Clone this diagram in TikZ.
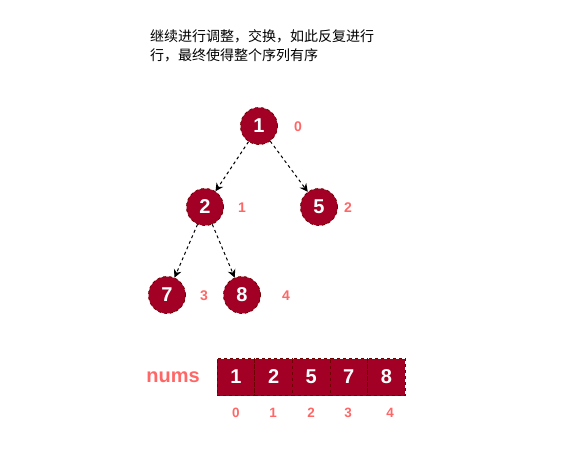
\documentclass[tikz,border=0pt]{standalone}
\usepackage{fontspec}
\setmainfont{Liberation Sans}
\newfontfamily\cjk{Noto Sans CJK SC}
\usetikzlibrary{arrows.meta}
\definecolor{nodefill}{HTML}{A20025}
\definecolor{nodeline}{HTML}{6F0000}
\definecolor{lbl}{HTML}{FF6666}
\tikzset{
  heapnode/.style={circle,fill=nodefill,draw=nodeline,dashed,line width=0.8pt,minimum size=37pt,inner sep=0pt,text=white,font=\fontsize{20}{22}\selectfont\bfseries},
  idx/.style={text=lbl,font=\fontsize{14}{16}\selectfont\bfseries},
  aidx/.style={text=lbl,font=\fontsize{13.5}{15}\selectfont\bfseries},
  cell/.style={rectangle,fill=nodefill,draw=nodeline,dashed,line width=0.8pt,minimum width=37.6pt,minimum height=37pt,inner sep=0pt,text=white,font=\fontsize{20}{22}\selectfont\bfseries},
  edge/.style={draw=black,dashed,line width=1pt,-{Stealth[length=8pt,width=8pt]}}
}
\begin{document}
\begin{tikzpicture}[x=1pt,y=-1pt]
\useasboundingbox (0,0) rectangle (572,460);
\node[anchor=west,align=left,inner sep=0pt,font=\cjk\fontsize{14}{18.5}\selectfont] (txt) at (150,46) {继续进行调整，交换，如此反复进行\\行，最终使得整个序列有序};
\node[heapnode] (n1) at (259,126) {1};
\node[heapnode] (n2) at (205,207) {2};
\node[heapnode] (n5) at (319,207) {5};
\node[heapnode] (n7) at (167,295) {7};
\node[heapnode] (n8) at (242,295) {8};
\node[idx] (i0) at (298,127) {0};
\node[idx] (i1) at (242,208) {1};
\node[idx] (i2) at (348,208) {2};
\node[idx] (i3) at (204,296) {3};
\node[idx] (i4) at (286,296) {4};
\draw[edge] (n1) -- (n2);
\draw[edge] (n1) -- (n5);
\draw[edge] (n2) -- (n7);
\draw[edge] (n2) -- (n8);
\node[text=lbl,font=\fontsize{20}{22}\selectfont\bfseries] (nums) at (173,377) {nums};
\node[cell] (c0) at (236,377) {1};
\node[cell] (c1) at (273.6,377) {2};
\node[cell] (c2) at (311.2,377) {5};
\node[cell] (c3) at (348.8,377) {7};
\node[cell] (c4) at (386.4,377) {8};
\node[aidx] (a0) at (236,413) {0};
\node[aidx] (a1) at (273,413) {1};
\node[aidx] (a2) at (311,413) {2};
\node[aidx] (a3) at (348,413) {3};
\node[aidx] (a4) at (390,413) {4};
\end{tikzpicture}
\end{document}
